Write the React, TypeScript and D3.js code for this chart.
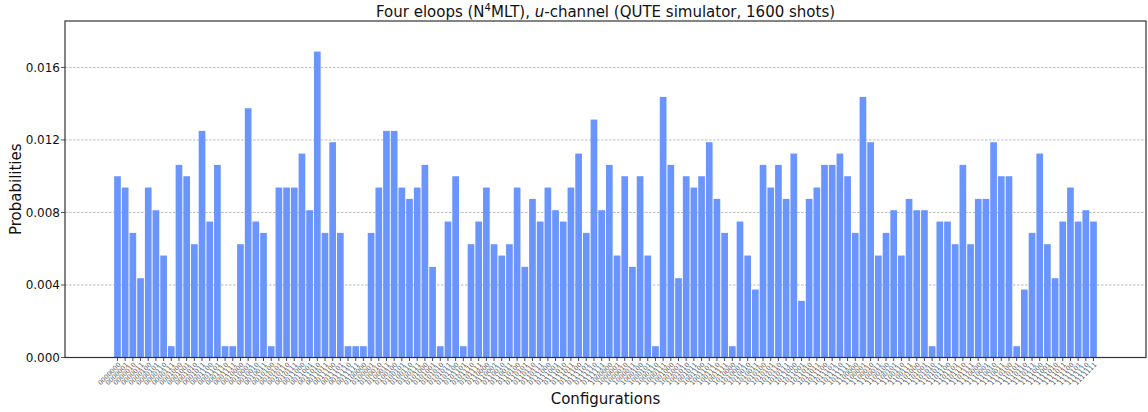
import React from "react";
import * as d3 from "d3";

const SHOTS = 1600;
const counts: number[] = [
  16, 15, 11, 7, 15, 13, 9, 1, 17, 16, 10, 20, 12, 17, 1, 1,
  10, 22, 12, 11, 1, 15, 15, 15, 18, 13, 27, 11, 19, 11, 1, 1,
  1, 11, 15, 20, 20, 15, 14, 15, 17, 8, 1, 12, 16, 1, 10, 12,
  15, 10, 9, 10, 15, 8, 14, 12, 15, 13, 12, 15, 18, 11, 21, 13,
  17, 9, 16, 8, 16, 9, 1, 23, 17, 7, 16, 15, 16, 19, 14, 11,
  1, 12, 9, 6, 17, 15, 17, 14, 18, 5, 14, 15, 17, 17, 18, 16,
  11, 23, 19, 9, 11, 13, 9, 14, 13, 13, 1, 12, 12, 10, 17, 10,
  14, 14, 19, 16, 16, 1, 6, 11, 18, 10, 7, 12, 15, 12, 13, 12,
];
const categories: string[] = counts.map((_, i) => i.toString(2).padStart(7, "0"));
const probabilities: number[] = counts.map((c) => c / SHOTS);
const yTicks: number[] = [0, 0.004, 0.008, 0.012, 0.016];

const W = 1148;
const H = 412;
const left = 65;
const right = 1146;
const top = 21;
const bottom = 357.5;

export default function App() {
  const n = categories.length;
  const x = d3.scaleLinear().domain([-6.83, n - 1 + 6.83]).range([left, right]);
  const ymax = (d3.max(probabilities) as number) * 1.1;
  const y = d3.scaleLinear().domain([0, ymax]).range([bottom, top]);
  const bw = 0.87;
  const font = "DejaVu Sans, sans-serif";
  return (
    <svg width={W} height={H} style={{ position: "absolute", left: 0, top: 0 }} fontFamily={font}>
      <rect x={0} y={0} width={W} height={H} fill="#fff" />
      {yTicks.map((t) => (
        <g key={t}>
          {t > 0 && (
            <line x1={left} x2={right} y1={y(t)} y2={y(t)} stroke="#aaa" strokeWidth={0.8} strokeDasharray="2.5,1.5" />
          )}
          <line x1={left - 4} x2={left} y1={y(t)} y2={y(t)} stroke="#222" strokeWidth={0.8} />
          <text x={left - 5} y={y(t)} dy="0.35em" textAnchor="end" fontSize={12} fill="#111">
            {t.toFixed(3)}
          </text>
        </g>
      ))}
      {probabilities.map((p, i) => (
        <rect
          key={categories[i]}
          x={x(i - bw / 2)}
          width={x(bw) - x(0)}
          y={y(p)}
          height={y(0) - y(p)}
          fill="#6a95ff"
        />
      ))}
      {categories.map((c, i) => (
        <g key={c}>
          <line x1={x(i)} x2={x(i)} y1={bottom} y2={bottom + 3.5} stroke="#222" strokeWidth={0.8} />
          <text
            transform={`translate(${x(i) + 2},${bottom + 6}) rotate(-45)`}
            textAnchor="end"
            fontSize={6.5}
            fill="#555"
            dy="0.35em"
          >
            {c}
          </text>
        </g>
      ))}
      <rect x={left} y={top} width={right - left} height={bottom - top} fill="none" stroke="#333" strokeWidth={1.2} />
      <text x={(left + right) / 2} y={17} textAnchor="middle" fontSize={15} fill="#111">
        Four eloops (N<tspan dy={-6} fontSize={10}>4</tspan>
        <tspan dy={6}>MLT), </tspan>
        <tspan fontStyle="italic">u</tspan>-channel (QUTE simulator, 1600 shots)
      </text>
      <text transform={`translate(21,${(top + bottom) / 2}) rotate(-90)`} textAnchor="middle" fontSize={15} fill="#111">
        Probabilities
      </text>
      <text x={(left + right) / 2} y={404} textAnchor="middle" fontSize={15} fill="#111">
        Configurations
      </text>
    </svg>
  );
}
